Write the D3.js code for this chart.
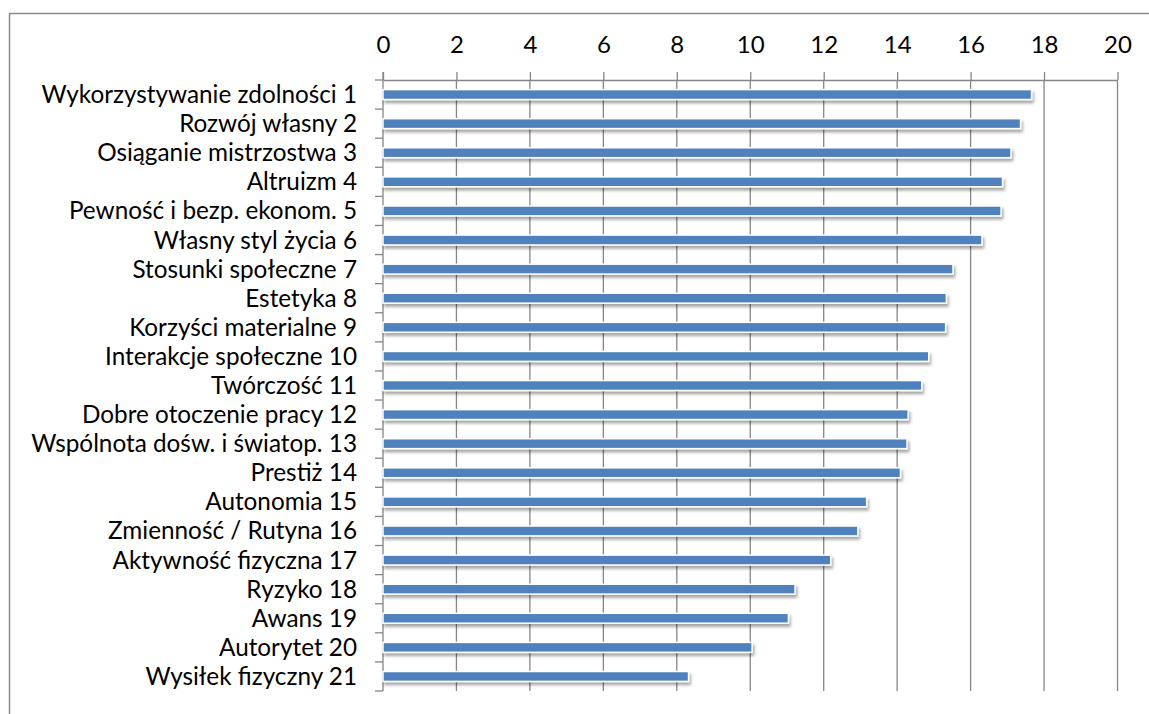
<!DOCTYPE html>
<html>
<head>
<meta charset="utf-8">
<script src="https://cdn.jsdelivr.net/npm/d3@7"></script>
<style>
  html, body { margin: 0; padding: 0; background: #fff; }
  svg { display: block; }
  text { font-family: Lato, "Open Sans", sans-serif; fill: #000; }
</style>
</head>
<body>
<svg id="chart" width="1149" height="714"></svg>
<script>
const categories = [
  "Wykorzystywanie zdolności 1",
  "Rozwój własny 2",
  "Osiąganie mistrzostwa 3",
  "Altruizm 4",
  "Pewność i bezp. ekonom. 5",
  "Własny styl życia 6",
  "Stosunki społeczne 7",
  "Estetyka 8",
  "Korzyści materialne 9",
  "Interakcje społeczne 10",
  "Twórczość 11",
  "Dobre otoczenie pracy 12",
  "Wspólnota dośw. i światop. 13",
  "Prestiż 14",
  "Autonomia 15",
  "Zmienność / Rutyna 16",
  "Aktywność fizyczna 17",
  "Ryzyko 18",
  "Awans 19",
  "Autorytet 20",
  "Wysiłek fizyczny 21"
];
const values = [17.66, 17.36, 17.10, 16.87, 16.83, 16.31, 15.52, 15.34, 15.32, 14.86,
                14.67, 14.30, 14.27, 14.09, 13.17, 12.93, 12.19, 11.22, 11.04, 10.05, 8.32];
const tickValues = [0, 2, 4, 6, 8, 10, 12, 14, 16, 18, 20];

(function () {
const svg = d3.select("#chart");
const mLeft = 383, mRight = 1117.5, mTop = 80, mBottom = 691;

// outer frame
svg.append("rect").attr("x", 9.5).attr("y", 13.5).attr("width", 1160).attr("height", 720)
  .attr("fill", "none").attr("stroke", "#8c8c8c").attr("stroke-width", 1.5);

const x = d3.scaleLinear().domain([0, 20]).range([mLeft, mRight]);
const y = d3.scaleBand().domain(categories).range([mTop, mBottom]).paddingInner(0.66).paddingOuter(0.33);

const defs = svg.append("defs");
const f = defs.append("filter").attr("id", "shadow").attr("x", "-5%").attr("y", "-50%").attr("width", "110%").attr("height", "250%");
f.append("feDropShadow").attr("dx", 1.5).attr("dy", 3).attr("stdDeviation", 1.8)
  .attr("flood-color", "#000").attr("flood-opacity", 0.35);

// gridlines
svg.append("g").selectAll("line").data(tickValues.slice(1)).join("line")
  .attr("x1", d => x(d)).attr("x2", d => x(d))
  .attr("y1", mTop).attr("y2", mBottom)
  .attr("stroke", "#868686").attr("stroke-width", 1.3);

// top axis
const xAxis = svg.append("g").attr("transform", `translate(0,${mTop})`)
  .call(d3.axisTop(x).tickValues(tickValues).tickSize(8).tickPadding(19).tickSizeOuter(0));
xAxis.select(".domain").attr("stroke", "#868686").attr("stroke-width", 1.3);
xAxis.selectAll(".tick line").attr("stroke", "#868686").attr("stroke-width", 1.3);
xAxis.selectAll(".tick text").style("font-size", "24px").style("font-family", "Lato, sans-serif").attr("fill", "#000");

// left axis line and boundary ticks
const step = y.step();
svg.append("line").attr("x1", mLeft).attr("x2", mLeft).attr("y1", mTop - 8).attr("y2", mBottom)
  .attr("stroke", "#868686").attr("stroke-width", 1.3);
svg.append("g").selectAll("line").data(d3.range(categories.length + 1)).join("line")
  .attr("x1", mLeft - 8).attr("x2", mLeft)
  .attr("y1", i => mTop + i * step).attr("y2", i => mTop + i * step)
  .attr("stroke", "#868686").attr("stroke-width", 1.3);

// bars
svg.append("g").selectAll("rect").data(values).join("rect")
  .attr("x", x(0)).attr("y", (d, i) => y(categories[i]))
  .attr("width", d => x(d) - x(0)).attr("height", y.bandwidth())
  .attr("fill", "#4F81BD").attr("stroke", "#ffffff").attr("stroke-width", 1.5)
  .attr("filter", "url(#shadow)");

// category labels
svg.append("g").selectAll("text").data(categories).join("text")
  .attr("x", 357).attr("y", d => y(d) + y.bandwidth() / 2)
  .attr("dy", "0.35em").attr("text-anchor", "end")
  .style("font-size", "24.3px").text(d => d);
})();
</script>
</body>
</html>
